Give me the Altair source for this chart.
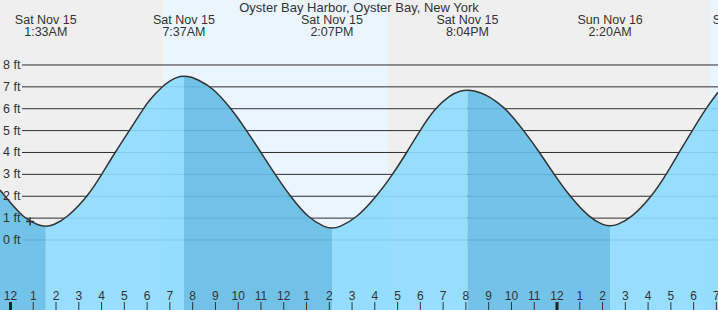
import altair as alt
import pandas as pd

TITLE = "Oyster Bay Harbor, Oyster Bay, New York"
FONT = "Liberation Sans"

# x: hours after midnight (Sat Nov 15); y: feet
X_START, X_END = -0.46, 31.07
Y_MIN, Y_MAX = -3.2, 10.97

# tide curve, split at each high / low
SEG_PHASE = ["ebb", "flood", "ebb", "flood", "ebb", "flood"]
SEG_HOURS = [
    [-0.46, -0.24, 0.56, 1.25, 1.55],
    [1.55, 1.85, 2.47, 3.40, 4.01, 4.59, 5.22, 5.83, 6.13, 6.64, 7.0, 7.32, 7.62],
    [7.62, 7.92, 8.32, 8.84, 9.71, 10.37, 11.00, 11.62, 12.28, 13.08, 13.82, 14.12],
    [14.12, 14.42, 15.20, 16.08, 16.79, 17.40, 17.98, 18.62, 19.30, 19.77, 20.07],
    [20.07, 20.37, 20.91, 21.35, 21.76, 22.55, 23.24, 23.87, 24.56, 25.44, 26.03, 26.33],
    [26.33, 26.63, 27.26, 28.17, 28.80, 29.36, 29.94, 30.53, 31.07],
]
SEG_FEET = [
    [2.29, 2.0, 1.0, 0.66, 0.62],
    [0.62, 0.66, 1.0, 2.0, 3.0, 4.0, 5.0, 6.0, 6.43, 7.0, 7.27, 7.46, 7.5],
    [7.5, 7.46, 7.27, 7.0, 6.0, 5.0, 4.0, 3.0, 2.0, 1.0, 0.57, 0.53],
    [0.53, 0.57, 1.0, 2.0, 3.0, 4.0, 5.0, 6.0, 6.63, 6.82, 6.86],
    [6.86, 6.82, 6.63, 6.32, 6.0, 5.0, 4.0, 3.0, 2.0, 1.0, 0.68, 0.64],
    [0.64, 0.68, 1.0, 2.0, 3.0, 4.0, 5.0, 6.0, 6.75],
]

# high / low labels at the top
EXT_HOURS = [1.55, 7.617, 14.117, 20.067, 26.333, 32.27]
EXT_DAY = ["Sat Nov 15", "Sat Nov 15", "Sat Nov 15", "Sat Nov 15", "Sun Nov 16", "Sun Nov 16"]
EXT_TIME = ["1:33AM", "7:37AM", "2:07PM", "8:04PM", "2:20AM", "8:16AM"]

# day / night background
BAND_START = [X_START, 6.72, 16.58, 30.72]
BAND_END = [6.72, 16.58, 30.72, X_END]
BAND_KIND = ["night", "day", "night", "day"]

# current-time marker
NOW_HOUR = [0.86]
NOW_FEET = [0.84]

# y gridlines
FT_VALUES = [0, 1, 2, 3, 4, 5, 6, 7, 8]
FT_LABELS = ["0 ft", "1 ft", "2 ft", "3 ft", "4 ft", "5 ft", "6 ft", "7 ft", "8 ft"]

# hour ticks
HOUR_TICKS = list(range(0, 32))
HOUR_LABELS = ["12", "1", "2", "3", "4", "5", "6", "7", "8", "9", "10", "11",
               "12", "1", "2", "3", "4", "5", "6", "7", "8", "9", "10", "11",
               "12", "1", "2", "3", "4", "5", "6", "7"]
MIDNIGHTS = [0, 24]

TEXT_COLOR = "#333333"
NIGHT_BG, DAY_BG = "#efefef", "#ebf5ff"
FLOOD_FILL, EBB_FILL = "#8cdaff", "#65bce5"

# ---------- tables ----------
seg_rows = []
line_rows = []
for i, (ph, hs, fs) in enumerate(zip(SEG_PHASE, SEG_HOURS, SEG_FEET)):
    for j, (h, f) in enumerate(zip(hs, fs)):
        seg_rows.append({"h": h, "ft": f, "base": Y_MIN, "seg": i, "phase": ph})
        if i == 0 or j > 0:
            line_rows.append({"h": h, "ft": f})
seg_df = pd.DataFrame(seg_rows)
line_df = pd.DataFrame(line_rows)

band_df = pd.DataFrame({"h": BAND_START, "h2": BAND_END, "kind": BAND_KIND,
                        "base": [Y_MIN] * 4, "top": [Y_MAX] * 4})
ext_df = pd.DataFrame({"h": EXT_HOURS, "day": EXT_DAY, "time": EXT_TIME})
now_df = pd.DataFrame({"h": NOW_HOUR, "ft": NOW_FEET})
ft_df = pd.DataFrame({"ft": FT_VALUES, "label": FT_LABELS})
tick_df = pd.DataFrame({"h": HOUR_TICKS, "label": HOUR_LABELS})
mid_df = pd.DataFrame({"h": MIDNIGHTS})
title_df = pd.DataFrame({"t": [TITLE]})

xs = alt.Scale(domain=[X_START, X_END], nice=False, zero=False)
ys = alt.Scale(domain=[Y_MIN, Y_MAX], nice=False, zero=False)


def X(f="h"):
    return alt.X(f"{f}:Q", scale=xs, axis=None)


def Y(f="ft"):
    return alt.Y(f"{f}:Q", scale=ys, axis=None)


def band(kind, color):
    return alt.Chart(band_df).transform_filter(alt.datum.kind == kind).mark_rect(color=color).encode(
        x=X(), x2="h2:Q", y=Y("base"), y2="top:Q"
    )


def water(seg):
    color = FLOOD_FILL if SEG_PHASE[seg] == "flood" else EBB_FILL
    return alt.Chart(seg_df).transform_filter(alt.datum.seg == seg).mark_area(
        interpolate="basis", fill=color, fillOpacity=0.9
    ).encode(
        x=X(), y=Y(), y2="base:Q"
    )


grid = alt.Chart(ft_df).mark_rule(color="#2e2e2e", strokeWidth=1).encode(
    y=Y(), x=alt.value(22), x2=alt.value(718)
)

line = alt.Chart(line_df).mark_line(interpolate="basis", color="#333333", strokeWidth=1.5).encode(
    x=X(), y=Y()
)

now = alt.Chart(now_df).mark_point(shape="M-1,0L1,0M0,-1L0,1", size=64, filled=False,
                                   stroke="#333333", strokeWidth=1.5, opacity=1).encode(x=X(), y=Y())

ylabels = alt.Chart(ft_df).mark_text(font=FONT, fontSize=12.5, align="left", baseline="middle",
                                     color=TEXT_COLOR).encode(
    x=alt.value(3), y=Y(), text="label:N"
)

ticks = alt.Chart(tick_df).mark_rule(color="#333333", strokeWidth=1).encode(
    x=X(), y=alt.value(302), y2=alt.value(310)
)
mid_ticks = alt.Chart(mid_df).mark_rule(color="#222222", strokeWidth=3).encode(
    x=X(), y=alt.value(302), y2=alt.value(310)
)
tick_labels = alt.Chart(tick_df).mark_text(font=FONT, fontSize=12, baseline="middle",
                                           color=TEXT_COLOR).encode(
    x=X(), y=alt.value(296), text="label:N"
)

ext_day = alt.Chart(ext_df).mark_text(font=FONT, fontSize=12.5, baseline="middle",
                                      color=TEXT_COLOR).encode(
    x=X(), y=alt.value(20), text="day:N"
)
ext_time = alt.Chart(ext_df).mark_text(font=FONT, fontSize=12.5, baseline="middle",
                                       color=TEXT_COLOR).encode(
    x=X(), y=alt.value(32), text="time:N"
)
title = alt.Chart(title_df).mark_text(font=FONT, fontSize=13, baseline="middle",
                                      color=TEXT_COLOR).encode(
    x=alt.value(359), y=alt.value(8), text="t:N"
)

layers = [band("night", NIGHT_BG), band("day", DAY_BG), grid]
layers += [water(i) for i in range(len(SEG_PHASE))]
layers += [line, now, ticks, mid_ticks, tick_labels, ylabels, ext_day, ext_time, title]

chart = alt.layer(*layers).properties(
    width=718, height=310,
    autosize=alt.AutoSizeParams(type="none"),
    padding=0,
    background="white",
).configure_view(stroke=None)

chart.save("out.html", embed_options={"renderer": "svg", "actions": False})
